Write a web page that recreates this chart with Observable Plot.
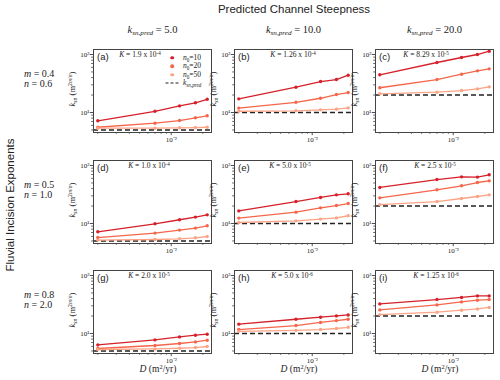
<!DOCTYPE html>
<html><head><meta charset="utf-8">
<script src="https://cdn.jsdelivr.net/npm/d3@7"></script>
<script src="https://cdn.jsdelivr.net/npm/@observablehq/plot@0.6"></script>
<style>
body{margin:0;background:#fff;}
#root{position:relative;width:500px;height:380px;overflow:hidden;font-family:'Liberation Serif',serif;color:#222;}
.t{position:absolute;white-space:nowrap;line-height:1;}
.c{transform:translate(-50%,-50%);}
.l{transform:translate(0,-50%);}
.rot{transform:translate(-50%,-50%) rotate(-90deg);}
.sans{font-family:'Liberation Sans',sans-serif;}
sub,sup{font-size:68%;line-height:0;}
sub{vertical-align:-0.35em;}
sup{vertical-align:0.45em;}
svg{position:absolute;overflow:visible;}
</style></head><body><div id="root"></div>
<script>
// ---- data ----
const D = [0.002, 0.007, 0.012, 0.017, 0.022];
const n0Levels = [10, 20, 50];
const seriesColors = ["#d6202a", "#f5664a", "#fca486"];
const kPred = [5.0, 10.0, 20.0];
const mVals = ["0.4", "0.5", "0.8"];
const nVals = ["0.6", "1.0", "2.0"];
const panelLetters = ["a","b","c","d","e","f","g","h","i"];
const Kmant = ["1.9","1.26","8.29","1.0","5.0","2.5","2.0","5.0","1.25"];
const Kexp  = ["-4","-4","-5","-4","-5","-5","-5","-6","-6"];
const yMajor = [10, 100];
const yMinor = [5,6,7,8,9,20,30,40,50,60,70,80,90];
const xMajor = [0.01];
const xMinor = [0.002,0.003,0.004,0.005,0.006,0.007,0.008,0.009,0.02];
// k_sn per panel: rows = n0 10, 20, 50; columns = D values
const panelA = [[7.19,10.5,13.0,14.7,16.9],[5.57,6.54,7.27,8.1,8.77],[5.36,5.36,5.45,5.5,5.57]];
const panelB = [[17.2,27.3,34.2,37.0,44.0],[11.9,15.0,17.6,20.4,22.1],[10.5,10.7,11.1,11.4,12.0]];
const panelC = [[44.7,72.8,88.8,100,114],[26.7,37.0,45.7,52.3,56.6],[21.0,22.4,23.9,25.6,27.7]];
const panelD = [[7.19,9.88,11.6,12.9,14.1],[5.73,6.83,7.69,8.33,9.12],[5.17,5.3,5.45,5.67,5.97]];
const panelE = [[16.5,23.9,28.1,31.2,32.5],[12.4,15.7,18.6,20.4,22.1],[10.4,11.1,11.9,12.5,13.6]];
const panelF = [[41.8,57.3,63.8,63.1,69.1],[27.7,38.1,44.7,50.9,54.4],[21.2,23.9,27.0,29.2,31.2]];
const panelG = [[6.36,7.75,8.73,9.35,9.72],[5.51,6.21,6.72,7.16,7.66],[5.3,5.42,5.57,5.73,5.97]];
const panelH = [[14.5,17.6,19.1,20.1,20.9],[11.7,13.7,15.5,16.7,17.6],[10.9,11.3,11.7,12.2,12.8]];
const panelI = [[32.4,38.5,41.8,44.5,44.5],[25.5,31.1,35.1,37.5,38.5],[21.2,23.3,25.2,26.5,28.1]];
const panels = [panelA,panelB,panelC,panelD,panelE,panelF,panelG,panelH,panelI];

// ---- layout ----
const root = document.getElementById("root");
const colLeft = [93, 234, 375], rowTop = [49, 160, 270], FW = 118, FH = 83;
const ML = 26, MR = 4, MT = 4, MB = 16;
const sup = {"-":"⁻","0":"⁰","1":"¹","2":"²","3":"³","4":"⁴","5":"⁵","6":"⁶"};
const fmtPow = v => "10" + String(Math.round(Math.log10(v))).split("").map(ch => sup[ch]).join("");

function addText(html, x, y, cls, style) {
  const d = document.createElement("div");
  d.className = "t " + cls;
  d.innerHTML = html;
  d.style.left = x + "px"; d.style.top = y + "px";
  Object.assign(d.style, style || {});
  root.appendChild(d);
  return d;
}

panels.forEach((p, i) => {
  const r = Math.floor(i / 3), c = i % 3;
  const data = [];
  n0Levels.forEach((n0, j) => D.forEach((d, k) => data.push({D: d, ksn: p[j][k], n0})));
  const svg = Plot.plot({
    width: FW + ML + MR, height: FH + MT + MB,
    marginLeft: ML, marginRight: MR, marginTop: MT, marginBottom: MB,
    style: {fontFamily: "'Liberation Serif', serif", fontSize: "7px", color: "#222", background: "transparent", overflow: "visible"},
    x: {type: "log", domain: [0.00182, 0.02418]},
    y: {type: "log", domain: [4.52, 122]},
    color: {type: "ordinal", domain: n0Levels, range: seriesColors},
    marks: [
      Plot.axisY({ticks: yMinor, tickSize: 1.8, tickFormat: () => "", label: null, strokeWidth: 0.7}),
      Plot.axisY({ticks: yMajor, tickSize: 3.2, tickPadding: 1, tickFormat: fmtPow, label: null, strokeWidth: 0.8}),
      Plot.axisX({ticks: xMinor, tickSize: 1.8, tickFormat: () => "", label: null, strokeWidth: 0.7}),
      Plot.axisX({ticks: xMajor, tickSize: 3.2, tickPadding: 1, tickFormat: fmtPow, label: null, strokeWidth: 0.8}),
      Plot.ruleY([kPred[c]], {stroke: "#222", strokeDasharray: "5,3", strokeWidth: 1.4}),
      Plot.line(data, {x: "D", y: "ksn", z: "n0", stroke: "n0", strokeWidth: 1.3}),
      Plot.dot(data, {x: "D", y: "ksn", fill: "n0", r: 1.7}),
      Plot.frame({stroke: "#444", strokeWidth: 1})
    ]
  });
  svg.style.left = (colLeft[c] - ML) + "px";
  svg.style.top = (rowTop[r] - MT) + "px";
  root.appendChild(svg);

  // panel letter
  addText("(" + panelLetters[i] + ")", colLeft[c] + 4, rowTop[r] + 8, "l sans", {fontSize: "9.5px"});
  // K label
  const kCenters = [140, 293, 426, 149, 290, 435, 149, 292, 436];
  addText("<i>K</i> = " + Kmant[i] + " x 10<sup>" + Kexp[i] + "</sup>", kCenters[i], rowTop[r] + 6, "c", {fontSize: "7.5px"});
  // y-axis label
  addText("<i>k</i><sub><i>sn</i></sub> (m<sup>2<i>m</i>/<i>n</i></sup>)", colLeft[c] - 21, rowTop[r] + 40, "rot", {fontSize: "8.5px"});
  // x-axis label on bottom row
  if (r === 2) addText("<i>D</i> (m<sup>2</sup>/yr)", colLeft[c] + FW / 2 + 6, 370, "c", {fontSize: "9.5px"});
});

// column headings
kPred.forEach((k, c) => {
  addText("<i>k</i><sub><i>sn,pred</i></sub> = " + k.toFixed(1), colLeft[c] + FW / 2 + 0.5, 30, "c", {fontSize: "10.5px"});
});
// row labels
mVals.forEach((m, r) => {
  addText("<i>m</i> = " + m + "<br><i>n</i> = " + nVals[r], 24, rowTop[r] + 30, "l", {fontSize: "10px", lineHeight: "10px"});
});
// super titles
addText("Predicted Channel Steepness", 294, 10, "c sans", {fontSize: "11.5px"});
addText("Fluvial Incision Exponents", 11, 205, "rot sans", {fontSize: "11.5px"});

// legend in panel (a)
const legY = [57.5, 66, 74.7];
n0Levels.forEach((n0, j) => {
  addText("", 172, legY[j], "c", {width: "3.6px", height: "3.6px", borderRadius: "50%", background: seriesColors[j]});
  addText("<i>n</i><sub>0</sub>=" + n0, 183, legY[j], "l", {fontSize: "7.5px"});
});
addText("", 171.5, 83, "c", {width: "13px", height: "0", borderTop: "1.4px dashed #222"});
addText("<i>k</i><sub><i>sn,pred</i></sub>", 183, 83, "l", {fontSize: "7.5px"});
</script></body></html>
